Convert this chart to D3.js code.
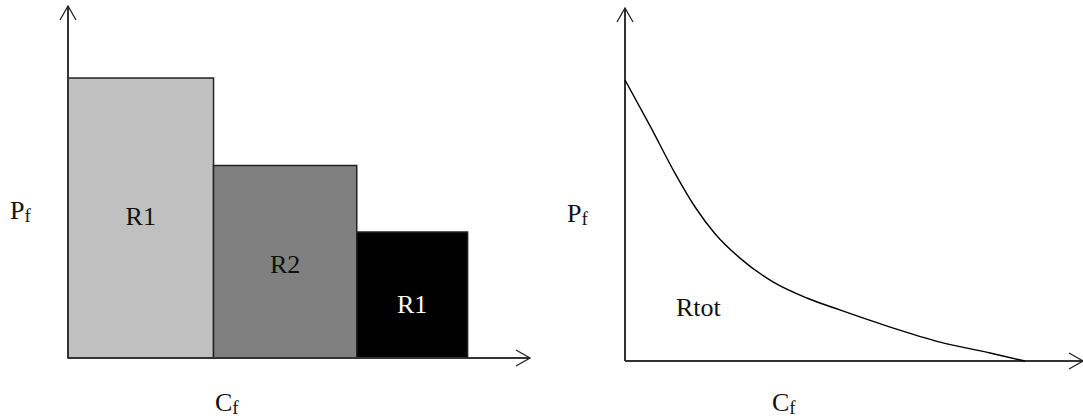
<!DOCTYPE html>
<html>
<head>
<meta charset="utf-8">
<script src="https://cdn.jsdelivr.net/npm/d3@7"></script>
<style>
  html, body { margin: 0; padding: 0; background: #fff; }
  svg { display: block; font-family: "Liberation Serif", "Times New Roman", serif; }
</style>
</head>
<body>
<svg id="chart" width="1083" height="420"></svg>
<script>
// Left panel: stacked regions along Cf, each with its own Pf height
const barNames   = ["R1", "R2", "R1"];
const barWidths  = [31.5, 31, 24];     // Cf units
const barHeights = [80, 55, 36];       // Pf units
const barFills   = ["#c0c0c0", "#808080", "#000000"];
const barLabelPf = [38, 24.3, 12.9];   // Pf level of each label baseline

// Right panel: total curve Pf(Cf)
const curveCf = [0, 5.5, 10.9, 15.3, 19.7, 25.1, 32.3, 39.7, 46.9, 57.9, 68.8, 79.7, 87.3];
const curvePf = [80.3, 67.1, 53.7, 44, 36.3, 29.4, 22.6, 18, 14.6, 9.7, 5.4, 2.3, 0];
const curveLabel = { text: "Rtot", cf: 16, pf: 13 };

const svg = d3.select("#chart");
const FONT = 26, SUB = 19;

// Open chevron arrowhead at (x, y) pointing along direction (dx, dy)
function arrow(g, x, y, dx, dy) {
  const back = 14, half = 8;
  const px = -dy, py = dx;
  const p = d3.path();
  p.moveTo(x - dx * back + px * half, y - dy * back + py * half);
  p.lineTo(x, y);
  p.lineTo(x - dx * back - px * half, y - dy * back - py * half);
  g.append("path").attr("d", p.toString())
    .attr("fill", "none").attr("stroke", "#222").attr("stroke-width", 1.3);
}

function axes(g, x, y, xEnd, yEnd) {
  const x0 = x(0), y0 = y(0);
  g.append("line").attr("x1", x0).attr("y1", y0).attr("x2", x0).attr("y2", yEnd)
    .attr("stroke", "#333").attr("stroke-width", 2);
  g.append("line").attr("x1", x0).attr("y1", y0).attr("x2", xEnd).attr("y2", y0)
    .attr("stroke", "#333").attr("stroke-width", 2);
  arrow(g, x0, yEnd, 0, -1);
  arrow(g, xEnd, y0, 1, 0);
}

function subLabel(g, xPos, yPos, main, sub) {
  const t = g.append("text").attr("x", xPos).attr("y", yPos)
    .attr("font-size", FONT).attr("fill", "#111");
  t.append("tspan").text(main);
  t.append("tspan").attr("font-size", SUB).attr("dy", 3).text(sub);
}

// ---- Left panel ----
const xL = d3.scaleLinear().domain([0, 100]).range([68, 530]);
const yL = d3.scaleLinear().domain([0, 100]).range([358, 8]);
const left = svg.append("g");

const starts = d3.cumsum([0, ...barWidths.slice(0, -1)]);
const bars = barNames.map((name, i) => ({
  name, x0: starts[i], x1: starts[i] + barWidths[i],
  h: barHeights[i], fill: barFills[i], lp: barLabelPf[i]
}));

left.selectAll("rect.bar").data(bars).join("rect")
  .attr("class", "bar")
  .attr("x", d => xL(d.x0))
  .attr("y", d => yL(d.h))
  .attr("width", d => xL(d.x1) - xL(d.x0))
  .attr("height", d => yL(0) - yL(d.h))
  .attr("fill", d => d.fill)
  .attr("stroke", "#222")
  .attr("stroke-width", 1.5);

left.selectAll("text.barlabel").data(bars).join("text")
  .attr("class", "barlabel")
  .attr("x", d => xL((d.x0 + d.x1) / 2))
  .attr("y", d => yL(d.lp))
  .attr("text-anchor", "middle")
  .attr("font-size", FONT)
  .attr("fill", d => d.fill === "#000000" ? "#fff" : "#111")
  .text(d => d.name);

axes(left, xL, yL, 530, 6);
subLabel(left, 10, 219, "P", "f");
subLabel(left, 215, 411, "C", "f");

// ---- Right panel ----
const xR = d3.scaleLinear().domain([0, 100]).range([625, 1083]);
const yR = d3.scaleLinear().domain([0, 100]).range([361, 11]);
const right = svg.append("g");

axes(right, xR, yR, 1083, 8);

const line = d3.line()
  .x(d => xR(d[0]))
  .y(d => yR(d[1]))
  .curve(d3.curveMonotoneX);

right.append("path")
  .datum(d3.zip(curveCf, curvePf))
  .attr("d", line)
  .attr("fill", "none")
  .attr("stroke", "#000")
  .attr("stroke-width", 1.4);

right.append("text")
  .attr("x", xR(curveLabel.cf))
  .attr("y", yR(curveLabel.pf))
  .attr("text-anchor", "middle")
  .attr("font-size", FONT)
  .attr("fill", "#111")
  .text(curveLabel.text);

subLabel(right, 567, 222, "P", "f");
subLabel(right, 772, 411, "C", "f");
</script>
</body>
</html>
